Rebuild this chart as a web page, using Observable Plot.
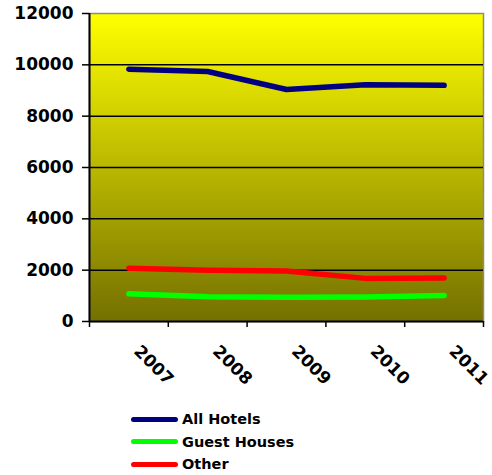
<!DOCTYPE html>
<html>
<head>
<meta charset="utf-8">
<script src="https://cdn.jsdelivr.net/npm/d3@7"></script>
<script src="https://cdn.jsdelivr.net/npm/@observablehq/plot@0.6"></script>
<style>
  html, body { margin: 0; padding: 0; background: #fff; }
  #chart { width: 492px; height: 475px; position: relative; font-family: "DejaVu Sans", Verdana, sans-serif; }
  #legend { position: absolute; left: 131px; top: 408px; }
  .row { display: flex; align-items: center; height: 22.5px; font-weight: bold; font-size: 14.5px; color: #000; }
  .swatch { width: 47px; height: 5px; border-radius: 3px; margin-right: 4px; }
</style>
</head>
<body>
<div id="chart"></div>
<script>
// Occupancy by accommodation type, 2007–2011
const years = [2007, 2008, 2009, 2010, 2011];
const allHotels = [9830, 9740, 9040, 9220, 9200];
const guestHouses = [1080, 960, 940, 950, 1010];
const other = [2070, 2000, 1970, 1680, 1690];
const seriesNames = ["All Hotels", "Guest Houses", "Other"];
const seriesColors = ["#000080", "#00ff00", "#ff0000"];
const yTicks = [0, 2000, 4000, 6000, 8000, 10000, 12000];

const seriesValues = [allHotels, guestHouses, other];
const rows = seriesNames.flatMap((name, i) =>
  years.map((year, j) => ({series: name, year, value: seriesValues[i][j]}))
);

// Category boundaries for the x tick marks
const bounds = years.map(y => y - 0.5).concat([years[years.length - 1] + 0.5]);

const plot = Plot.plot({
  width: 492,
  height: 400,
  marginLeft: 89,
  marginRight: 9,
  marginTop: 13,
  marginBottom: 79,
  style: {
    fontFamily: "DejaVu Sans, Verdana, sans-serif",
    fontSize: "17px",
    fontWeight: "bold",
    background: "transparent",
    overflow: "visible"
  },
  x: {type: "linear", domain: [bounds[0], bounds[bounds.length - 1]], label: null},
  y: {domain: [0, 12000], label: null},
  color: {domain: seriesNames, range: seriesColors},
  marks: [
    Plot.frame({fill: "url(#plotBg)", stroke: "#8a8a8a", strokeWidth: 1.5}),
    Plot.gridY(yTicks.slice(1, -1), {stroke: "#000", strokeOpacity: 1, strokeWidth: 1.5}),
    Plot.line(rows, {
      x: "year", y: "value", z: "series", stroke: "series",
      strokeWidth: 5.5, strokeLinecap: "round", strokeLinejoin: "round", curve: "linear"
    }),
    Plot.ruleX([bounds[0]], {stroke: "#000", strokeWidth: 2}),
    Plot.ruleY([0], {stroke: "#000", strokeWidth: 2}),
    Plot.axisY(yTicks, {
      tickSize: 7, tickPadding: 9, tickFormat: d => String(d), label: null,
      fontSize: 17, fontWeight: "bold", fill: "#000", strokeWidth: 1.5
    }),
    Plot.axisX(bounds, {tickSize: 6, tickFormat: () => "", label: null, strokeWidth: 1.5}),
    Plot.text(years, {
      x: d => d, frameAnchor: "bottom", text: d => String(d),
      rotate: 45, textAnchor: "start", lineAnchor: "middle",
      dx: 8, dy: 27, fontSize: 17, fontWeight: "bold", fill: "#000"
    })
  ]
});

// Vertical gradient filling the plot area
const defs = d3.select(plot).insert("defs", ":first-child");
const grad = defs.append("linearGradient")
  .attr("id", "plotBg").attr("x1", 0).attr("y1", 0).attr("x2", 0).attr("y2", 1);
grad.append("stop").attr("offset", "0%").attr("stop-color", "#ffff00");
grad.append("stop").attr("offset", "100%").attr("stop-color", "#747000");

const chart = document.getElementById("chart");
chart.appendChild(plot);

const legend = document.createElement("div");
legend.id = "legend";
seriesNames.forEach((name, i) => {
  const row = document.createElement("div");
  row.className = "row";
  const sw = document.createElement("span");
  sw.className = "swatch";
  sw.style.background = seriesColors[i];
  const label = document.createElement("span");
  label.textContent = name;
  row.appendChild(sw);
  row.appendChild(label);
  legend.appendChild(row);
});
chart.appendChild(legend);
</script>
</body>
</html>
